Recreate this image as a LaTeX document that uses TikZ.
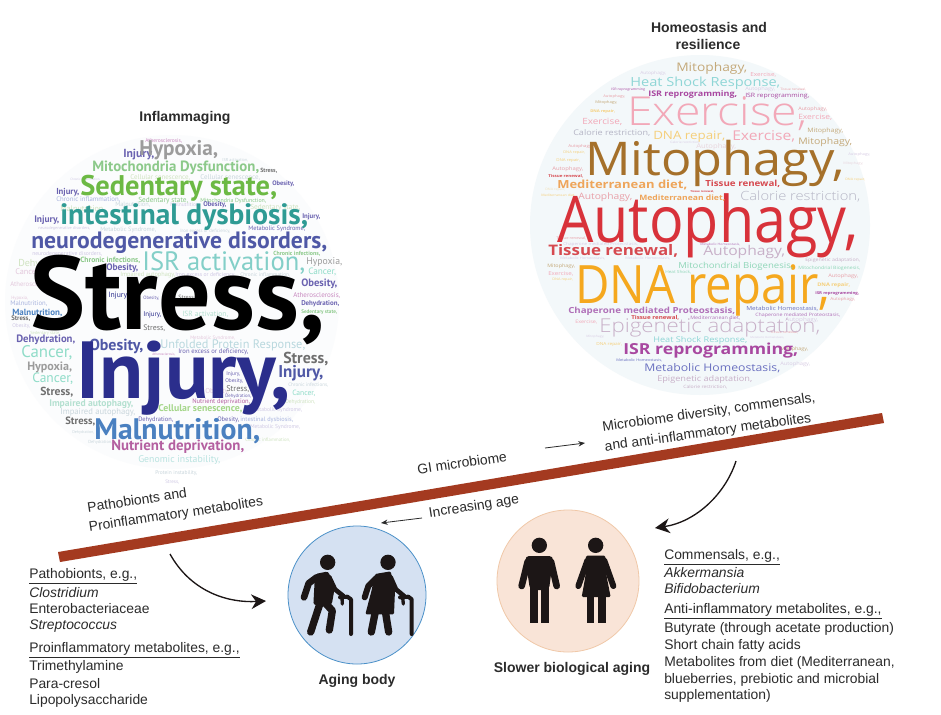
\documentclass[tikz,border=0pt]{standalone}
\usepackage{fontspec}
\setmainfont{Liberation Sans}
\newfontfamily\ptf{PT Sans}
\newfontfamily\rbf{Open Sans}
\newfontfamily\rbl{Open Sans Light}
\usetikzlibrary{arrows.meta}
\newlength\cwu \setlength{\cwu}{0.75pt}
\newcount\wn
\def\cfont{\ptf}
\def\cvs{1}
% [font] left edge, mid y, width, colour, text
\newcommand\cw[6][]{\global\advance\wn by 1
  \node[anchor=west,inner sep=0pt,text=#5] (w\the\wn) at (#2,#3) {\scalebox{1}[\cvs]{\resizebox{#4\cwu}{!}{\cfont#1\vphantom{Ay,}#6}}};}
\definecolor{cStress}{HTML}{000000}
\definecolor{cInj}{HTML}{2B2E8C}
\definecolor{cNeuro}{HTML}{4F58A6}
\definecolor{cInt}{HTML}{2F9B94}
\definecolor{cSed}{HTML}{6CB944}
\definecolor{cMito}{HTML}{8CC98A}
\definecolor{cHyp}{HTML}{9C9C9C}
\definecolor{cIsr}{HTML}{83CFC8}
\definecolor{cMal}{HTML}{4A80C0}
\definecolor{cNut}{HTML}{B45FA0}
\definecolor{cGen}{HTML}{B9E3E0}
\definecolor{cCan}{HTML}{8FDCC8}
\definecolor{cGr}{HTML}{6F6F6F}
\definecolor{cPur}{HTML}{6A62B0}
\definecolor{cLav}{HTML}{A9B4DE}
\definecolor{cLgr}{HTML}{A5D68A}
\definecolor{cImp}{HTML}{B4E0D0}
\definecolor{cUnf}{HTML}{B9D8DE}
\definecolor{cAth}{HTML}{C88AC0}
\definecolor{cFa}{HTML}{C9D6DC}
\definecolor{cFb}{HTML}{CFE3C0}
\definecolor{cFc}{HTML}{CFC8E4}
\definecolor{cFd}{HTML}{E3C8DC}
\definecolor{rMit}{HTML}{A5702A}
\definecolor{rAut}{HTML}{D8323A}
\definecolor{rDna}{HTML}{F5A81E}
\definecolor{rExe}{HTML}{F2A8B8}
\definecolor{rTop}{HTML}{C4A97A}
\definecolor{rHea}{HTML}{8FD6D6}
\definecolor{rIsr}{HTML}{A848A0}
\definecolor{rCal}{HTML}{B5B5C5}
\definecolor{rDnl}{HTML}{F5CF7A}
\definecolor{rMed}{HTML}{EEA55A}
\definecolor{rTis}{HTML}{D64A50}
\definecolor{rBio}{HTML}{8FD6B8}
\definecolor{rCha}{HTML}{B070B8}
\definecolor{rEpi}{HTML}{C8B0C8}
\definecolor{rHom}{HTML}{6A70C0}
\definecolor{rPk}{HTML}{E8A0A8}
\definecolor{rFa}{HTML}{E8D4DC}
\definecolor{rFb}{HTML}{F2E0B8}
\definecolor{rFc}{HTML}{D8CCE4}
\definecolor{barc}{HTML}{A43A20}
\definecolor{inkc}{HTML}{2B2B2B}
\definecolor{figc}{HTML}{1C1616}
\definecolor{bgL}{HTML}{FBFCFD}
\definecolor{bgR}{HTML}{F3F8FA}
\definecolor{bluf}{HTML}{D5E1F2}
\definecolor{blud}{HTML}{4A90C8}
\definecolor{oraf}{HTML}{F9E4D7}
\definecolor{orad}{HTML}{F0C8A8}
\tikzset{
  lab/.style={inner sep=0pt,text=inkc,font=\fontsize{10.4}{12}\selectfont},
  listt/.style={lab,anchor=west},
  ttl/.style={inner sep=0pt,text=inkc,font=\fontsize{10.5}{12}\selectfont\bfseries},
  thinarrow/.style={draw=inkc,line width=0.6pt,-{Stealth[length=5pt,width=4pt]}},
  bigarrow/.style={draw=figc,line width=1pt,-{Stealth[length=11pt,width=11pt,inset=3.5pt]}},
  limb/.style={draw=figc,line cap=round,line join=round},
}
\begin{document}
\begin{tikzpicture}[x=0.75pt,y=-0.75pt]
\useasboundingbox (0,0) rectangle (941,714);
\fill[white] (0,0) rectangle (941,714);
% ---------- backgrounds
\fill[bgL] (172,302) circle (167*0.75pt);
\fill[bgR] (700,225) circle (170*0.75pt);
% ---------- left cloud
\def\cfont{\ptf}
% faint filler
\cw{145}{141}{37}{cAth}{Atherosclerosis,}
\cw{70}{180}{30}{cFc}{Chronic inflammation,}
\cw{222}{160}{26}{cFa}{ISR activation,}
\cw{130}{178}{60}{cFb}{Cellular senescence,}
\cw{200}{178}{60}{cFa}{Cellular senescence,}
\cw{60}{209}{45}{cFb}{Malnutrition,}
\cw{115}{205}{35}{cFa}{Malnutrition,}
\cw{170}{205}{30}{cFc}{Malnutrition,}
\cw{250}{208}{50}{cFb}{Sedentary state,}
\cw{38}{228}{52}{cFc}{neurodegenerative disorders,}
\cw{100}{230}{56}{cFa}{Metabolic Syndrome,}
\cw{180}{231}{50}{cFa}{Iron excess or deficiency,}
\cw{32}{254}{70}{cFc}{neurodegenerative disorders,}
\cw{18}{264}{55}{cFb}{Dehydration,}
\cw{15}{272}{25}{cFd}{Cancer,}
\cw{120}{275}{55}{cFb}{Impaired autophagy,}
\cw{175}{275}{60}{cFc}{Iron excess or deficiency,}
\cw{240}{275}{50}{cFa}{Chronic inflammation,}
\cw{10}{285}{45}{cFd}{Atherosclerosis,}
\cw{11}{298}{17}{cFd}{Hypoxia,}
\cw{10}{304}{37}{cLav}{Malnutrition,}
\cw{12}{326}{18}{cFc}{Obesity,}
\cw{30}{333}{30}{cFb}{Sedentary state,}
\cw{190}{338}{45}{cFd}{Metabolic Syndrome,}
\cw{60}{412}{75}{cFa}{Impaired autophagy,}
\cw{288}{385}{40}{cFa}{Chronic infections,}
\cw{292}{394}{23}{cCan}{Cancer,}
\cw{285}{402}{30}{cFb}{Dehydration,}
\cw{252}{410}{50}{cFc}{Metabolic Syndrome,}
\cw{250}{427}{50}{cFc}{Metabolic Syndrome,}
\cw{88}{442}{24}{cFa}{Dehydration,}
\cw{245}{440}{45}{cFb}{Chronic inflammation,}
\cw{72}{432}{22}{cFa}{Dehydration,}
\cw{205}{392}{24}{cFd}{Obesity,}
\cw{155}{473}{42}{cFa}{Protein instability,}
\cw{165}{482}{14}{cFc}{Stress,}
\cw{108}{296}{20}{cInj}{Injury,}
\cw{143}{298}{16}{cPur}{Obesity,}
\cw{178}{298}{17}{cGr}{Stress,}
\cw{143}{315}{18}{cInj}{Injury,}
\cw{182}{315}{46}{cImp}{ISR activation,}
\cw{143}{328}{22}{cGr}{Stress,}
\cw{152}{355}{23}{cAth}{Atherosclerosis,}
\cw{178}{352}{70}{cPur}{Iron excess or deficiency,}
\cw{226}{374}{14}{cPur}{Injury,}
\cw{225}{381}{18}{cPur}{Obesity,}
\cw{226}{389}{23}{cGr}{Stress,}
\cw{225}{396}{26}{cPur}{Dehydration,}
\cw{192}{402}{58}{cNut}{Nutrient deprivation,}
\cw{138}{420}{35}{cPur}{Dehydration,}
\cw{217}{420}{22}{cPur}{Obesity,}
\cw{240}{420}{53}{cLav}{intestinal dysbiosis,}
\cw{248}{229}{57}{cPur}{Metabolic Syndrome,}
% named words
\cw[\bfseries]{123}{155}{31}{cPur}{Injury,}
\cw[\bfseries]{139}{150}{79}{cHyp}{Hypoxia,}
\cw[\bfseries]{92}{168}{167}{cMito}{Mitochondria Dysfunction,}
\cw[\bfseries]{260}{171}{17}{cGr}{Stress,}
\cw[\bfseries]{80}{188}{197}{cSed}{Sedentary state,}
\cw[\bfseries]{56}{192}{23}{cPur}{Injury,}
\cw[\bfseries]{272}{184}{22}{cPur}{Obesity,}
\cw{56}{200}{64}{cLav}{Chronic inflammation,}
\cw{138}{201}{50}{cMito}{Sedentary state,}
\cw{200}{201}{66}{cMito}{Mitochondria Dysfunction,}
\cw[\bfseries]{60}{217}{248}{cInt}{intestinal dysbiosis,}
\cw[\bfseries]{34}{220}{25}{cPur}{Injury,}
\cw[\bfseries]{203}{205}{23}{cPur}{Obesity,}
\cw[\bfseries]{302}{217}{18}{cPur}{Injury,}
\cw[\bfseries]{31}{243}{296}{cNeuro}{neurodegenerative disorders,}
\cw{142}{264}{163}{cIsr}{ISR activation,}
\cw[\bfseries]{80}{261}{60}{cMito}{Chronic infections,}
\cw[\bfseries]{106}{268}{32}{cPur}{Obesity,}
\cw[\bfseries]{273}{254}{47}{cMito}{Chronic infections,}
\cw{306}{262}{36}{cHyp}{Hypoxia,}
\cw{308}{272}{28}{cCan}{Cancer,}
\cw[\bfseries]{301}{284}{36}{cPur}{Obesity,}
\cw{293}{296}{47}{cAth}{Atherosclerosis,}
\cw[\bfseries]{301}{304}{38}{cPur}{Dehydration,}
\cw[\bfseries]{301}{312}{36}{cMito}{Sedentary state,}
\cw[\bfseries]{12}{313}{50}{cMal}{Malnutrition,}
\cw[\bfseries]{11}{319}{19}{cGr}{Stress,}
\cw[\bfseries]{16}{340}{59}{cPur}{Dehydration,}
\cw[\bfseries]{30}{303}{295}{cStress}{Stress,}
\cw{160}{345}{145}{cUnf}{Unfolded Protein Response,}
\cw[\bfseries]{89}{346}{54}{cNeuro}{Obesity,}
\cw{21}{353}{51}{cCan}{Cancer,}
\cw[\bfseries]{27}{367}{45}{cHyp}{Hypoxia,}
\cw{32}{379}{41}{cCan}{Cancer,}
\cw[\bfseries]{40}{393}{33}{cGr}{Stress,}
\cw[\bfseries]{76}{378}{214}{cInj}{Injury,}
\cw[\bfseries]{283}{359}{45}{cGr}{Stress,}
\cw[\bfseries]{278}{373}{45}{cNeuro}{Injury,}
\cw[\bfseries]{49}{404}{84}{cImp}{Impaired autophagy,}
\cw[\bfseries]{158}{409}{84}{cLgr}{Cellular senescence,}
\cw[\bfseries]{65}{422}{30}{cGr}{Stress,}
\cw[\bfseries]{94}{432}{166}{cMal}{Malnutrition,}
\cw[\bfseries]{111}{447}{133}{cNut}{Nutrient deprivation,}
\cw{138}{460}{82}{cGen}{Genomic instability,}
% ---------- right cloud
\def\cfont{\rbf}
\def\cvs{0.86}
% small
\cw{611}{90}{34}{rIsr}{ISR reprogramming}
\cw{603}{97}{22}{rPk}{Autophagy,}
\cw{745}{96}{64}{rIsr}{ISR reprogramming,}
\cw{745}{89}{30}{rFc}{Autophagy,}
\cw{780}{90}{26}{rPk}{Tissue renewal,}
\cw{640}{73}{26}{rFc}{Autophagy,}
\cw{595}{103}{22}{rTop}{Mitophagy,}
\cw[\bfseries]{590}{112}{25}{rDnl}{DNA repair,}
\cw{582}{122}{40}{rExe}{Exercise,}
\cw{798}{109}{29}{rPk}{Autophagy,}
\cw{798}{118}{34}{rExe}{Exercise,}
\cw{807}{131}{36}{rTop}{Mitophagy,}
\cw{750}{75}{26}{rExe}{Exercise,}
\cw{696}{147}{40}{rFa}{Autophagy,}
\cw{670}{143}{30}{rFc}{Calorie restriction,}
\cw{568}{146}{24}{rPk}{Autophagy,}
\cw{563}{153}{22}{rDnl}{DNA repair,}
\cw{556}{161}{24}{rDnl}{DNA repair,}
\cw{552}{169}{31}{rPk}{Autophagy,}
\cw[\bfseries]{548}{176}{35}{rTis}{Tissue renewal,}
\cw{848}{155}{22}{rFc}{Autophagy,}
\cw{843}{164}{20}{rFa}{Mitophagy,}
\cw{845}{180}{20}{rDnl}{DNA repair,}
\cw[\bfseries]{690}{192}{24}{rTis}{Tissue renewal,}
\cw{545}{190}{20}{rFb}{DNA repair,}
\cw{541}{196}{34}{rDnl}{Mediterranean diet,}
\cw{556}{239}{30}{rPk}{Tissue renewal,}
\cw{563}{244}{75}{rFc}{Chaperone mediated Proteostasis,}
\cw{547}{266}{28}{rTop}{Mitophagy,}
\cw{548}{274}{25}{rExe}{Exercise,}
\cw{552}{280}{21}{rDnl}{DNA repair,}
\cw{560}{259}{45}{rFc}{Metabolic Homeostasis,}
\cw{625}{259}{45}{rFc}{Metabolic Homeostasis,}
\cw{665}{272}{26}{rBio}{Heat Shock,}
\cw{700}{245}{40}{rCha}{Metabolic Homeostasis,}
\cw{805}{260}{55}{rEpi}{Epigenetic adaptation,}
\cw{798}{268}{62}{rBio}{Mitochondrial Biogenesis,}
\cw{828}{276}{30}{rPk}{Autophagy,}
\cw[\bfseries]{817}{285}{33}{rDnl}{DNA repair,}
\cw[\bfseries]{815}{294}{44}{rIsr}{ISR reprogramming,}
\cw{830}{299}{25}{rPk}{Autophagy,}
\cw{755}{315}{85}{rCha}{Chaperone mediated Proteostasis,}
\cw{746}{309}{72}{rHom}{Metabolic Homeostasis,}
\cw{690}{318}{50}{rCha}{Mediterranean diet,}
\cw{785}{320}{33}{rFc}{Autophagy,}
\cw{575}{322}{22}{rExe}{Exercise,}
\cw{586}{337}{18}{rFc}{Mitophagy,}
\cw{596}{344}{26}{rDnl}{DNA repair,}
\cw{750}{338}{34}{rFc}{Metabolic Homeostasis,}
\cw{780}{349}{28}{rTop}{Mitophagy,}
\cw{770}{333}{28}{rPk}{Tissue renewal,}
\cw{616}{361}{46}{rHom}{Metabolic Homeostasis,}
\cw{780}{364}{30}{rFc}{Autophagy,}
\cw{683}{387}{44}{rEpi}{Calorie restriction,}
% words
\cw{676}{68}{71}{rTop}{Mitophagy,}
\cw{630}{83}{150}{rHea}{Heat Shock Response,}
\cw[\bfseries]{648}{94}{89}{rIsr}{ISR reprogramming,}
\cw[\rbl]{627}{116}{180}{rExe}{Exercise,}
\cw{573}{133}{77}{rCal}{Calorie restriction,}
\cw{653}{137}{72}{rDnl}{DNA repair,}
\cw{732}{137}{63}{rExe}{Exercise,}
\cw{798}{142}{54}{rTop}{Mitophagy,}
\def\cvs{0.92}
\cw{585}{163}{260}{rMit}{Mitophagy,}
\def\cvs{1.12}
\cw{557}{226}{301}{rAut}{Autophagy,}
\cw{575}{290}{255}{rDna}{DNA repair,}
\def\cvs{0.86}
\cw[\bfseries]{557}{186}{130}{rMed}{Mediterranean diet,}
\cw[\bfseries]{705}{184}{75}{rTis}{Tissue renewal,}
\cw{578}{197}{54}{rPk}{Autophagy,}
\cw[\bfseries]{639}{199}{86}{rMed}{Mediterranean diet,}
\cw[\rbl]{740}{197}{120}{rCal}{Calorie restriction,}
\cw[\bfseries]{548}{252}{130}{rTis}{Tissue renewal,}
\cw{703}{252}{82}{rEpi}{Autophagy,}
\cw{678}{266}{115}{rBio}{Mitochondrial Biogenesis,}
\cw[\bfseries]{568}{311}{167}{rCha}{Chaperone mediated Proteostasis,}
\cw[\bfseries]{631}{318}{48}{rTis}{Tissue renewal,}
\cw[\rbl]{599}{328}{221}{rEpi}{Epigenetic adaptation,}
\cw{653}{340}{94}{rHea}{Heat Shock Response,}
\cw[\bfseries]{623}{351}{175}{rIsr}{ISR reprogramming,}
\cw{644}{369}{136}{rHom}{Metabolic Homeostasis,}
\cw{657}{379}{95}{rEpi}{Epigenetic adaptation,}
% ---------- titles
\node[ttl] (t1) at (185,118) {Inflammaging};
\node[ttl] (t2) at (709,27) {Homeostasis and};
\node[ttl] (t3) at (708,44) {resilience};
% ---------- bar
\fill[barc] (58,552) -- (882,413) -- (884,423) -- (60,562) -- cycle;
% ---------- rotated labels
\node[lab,rotate=8.5] (a1) at (137,500) {Pathobionts and};
\node[lab,rotate=8.5] (a2) at (176,515) {Proinflammatory metabolites};
\node[lab,rotate=8.5] (a3) at (462,463) {GI microbiome};
\node[lab,rotate=8] (a4) at (709,413) {Microbiome diversity, commensals,};
\node[lab,rotate=8] (a5) at (708,433) {and anti-inflammatory metabolites};
\node[lab,rotate=9] (a6) at (474,507) {Increasing age};
\coordinate (g1) at (545,448);
\coordinate (g2) at (585,443);
\coordinate (i1) at (422,518);
\coordinate (i2) at (381,523);
\draw[thinarrow] (g1) -- (g2);
\draw[thinarrow] (i1) -- (i2);
% ---------- circles
\node[circle,minimum size=138*0.75pt,inner sep=0pt,draw=blud,line width=0.6pt,fill=bluf] (cb) at (357,595) {};
\node[circle,minimum size=142*0.75pt,inner sep=0pt,draw=orad,line width=0.6pt,fill=oraf] (co) at (568,581) {};
% ---------- curved arrows
\coordinate (l1) at (170,554);
\coordinate (l2) at (266,601);
\coordinate (r1) at (736,461);
\coordinate (r2) at (655,528);
\draw[bigarrow] (l1) .. controls (190,590) and (225,603) .. (l2);
\draw[bigarrow] (r1) .. controls (725,495) and (695,522) .. (r2);
% ---------- figures: coordinates in the crop grid (1 unit = 1/3 px)
\begin{scope}[shift={(260,490)},x=0.25pt,y=-0.25pt]
 % old man
 \fill[figc] (203,217) circle (23*0.25pt);
 \fill[figc,rounded corners=2pt] (165,252) -- (205,244) -- (224,295) -- (215,345) -- (160,345) -- cycle;
 \draw[limb,line width=5pt] (170,262) -- (146,280) -- (132,322);
 \draw[limb,line width=3.5pt] (208,262) -- (225,298) -- (250,318);
 \draw[limb,line width=2.5pt] (246,322) -- (247,342);
 \draw[limb,line width=3pt] (240,322) -- (262,320) -- (273,328) -- (273,432);
 \draw[limb,line width=5.5pt] (180,340) -- (152,426);
 \draw[limb,line width=5.5pt] (192,335) -- (217,362) -- (208,420);
 % old woman
 \fill[figc] (384,217) circle (23*0.25pt);
 \fill[figc,rounded corners=1pt] (345,252) -- (392,244) -- (405,300) -- (402,373) -- (316,373) -- (335,300) -- cycle;
 \draw[limb,line width=4.5pt] (348,265) -- (325,288) -- (314,322);
 \draw[limb,line width=3.5pt] (392,262) -- (408,298) -- (432,318);
 \draw[limb,line width=2.5pt] (428,322) -- (430,342);
 \draw[limb,line width=3pt] (420,322) -- (445,320) -- (455,328) -- (455,432);
 \draw[limb,line width=5.5pt] (345,370) -- (334,426);
 \draw[limb,line width=5.5pt] (377,370) -- (386,426);
 % man
 \fill[figc] (838,166) circle (23*0.25pt);
 \fill[figc,rounded corners=3pt] (795,198) -- (880,198) -- (867,300) -- (810,300) -- cycle;
 \draw[limb,line width=5pt] (803,215) -- (785,288);
 \draw[limb,line width=5pt] (873,215) -- (890,288);
 \fill[figc] (810,290) rectangle (835,400);
 \fill[figc] (843,290) rectangle (867,400);
 % woman
 \fill[figc] (1007,166) circle (23*0.25pt);
 \fill[figc,rounded corners=1pt] (978,197) -- (1036,197) -- (1040,260) -- (1052,321) -- (965,321) -- (976,260) -- cycle;
 \draw[limb,line width=4.5pt] (982,212) -- (955,288);
 \draw[limb,line width=4.5pt] (1033,212) -- (1060,288);
 \fill[figc] (980,318) rectangle (1003,400);
 \fill[figc] (1014,318) rectangle (1037,400);
\end{scope}
\node[ttl] (c1) at (357,681) {Aging body};
\node[ttl] (c2) at (572,669) {Slower biological aging};
% ---------- lists
\node[listt] (p1) at (29,576) {\underline{Pathobionts, e.g.,}};
\node[listt] (p2) at (29,593) {\itshape Clostridium};
\node[listt] (p3) at (29,609) {Enterobacteriaceae};
\node[listt] (p4) at (29,626) {\itshape Streptococcus};
\node[listt] (p5) at (29,650) {\underline{Proinflammatory metabolites, e.g.,}};
\node[listt] (p6) at (29,667) {Trimethylamine};
\node[listt] (p7) at (29,684) {Para-cresol};
\node[listt] (p8) at (29,701) {Lipopolysaccharide};
\node[listt] (q1) at (664,557) {\underline{Commensals, e.g.,}};
\node[listt] (q2) at (664,573) {\itshape Akkermansia};
\node[listt] (q3) at (664,589) {\itshape Bifidobacterium};
\node[listt] (q4) at (664,611) {\underline{Anti-inflammatory metabolites, e.g.,}};
\node[listt] (q5) at (664,629) {Butyrate (through acetate production)};
\node[listt] (q6) at (664,646) {Short chain fatty acids};
\node[listt] (q7) at (664,663) {Metabolites from diet (Mediterranean,};
\node[listt] (q8) at (664,680) {blueberries, prebiotic and microbial};
\node[listt] (q9) at (664,696) {supplementation)};
\end{tikzpicture}
\end{document}
